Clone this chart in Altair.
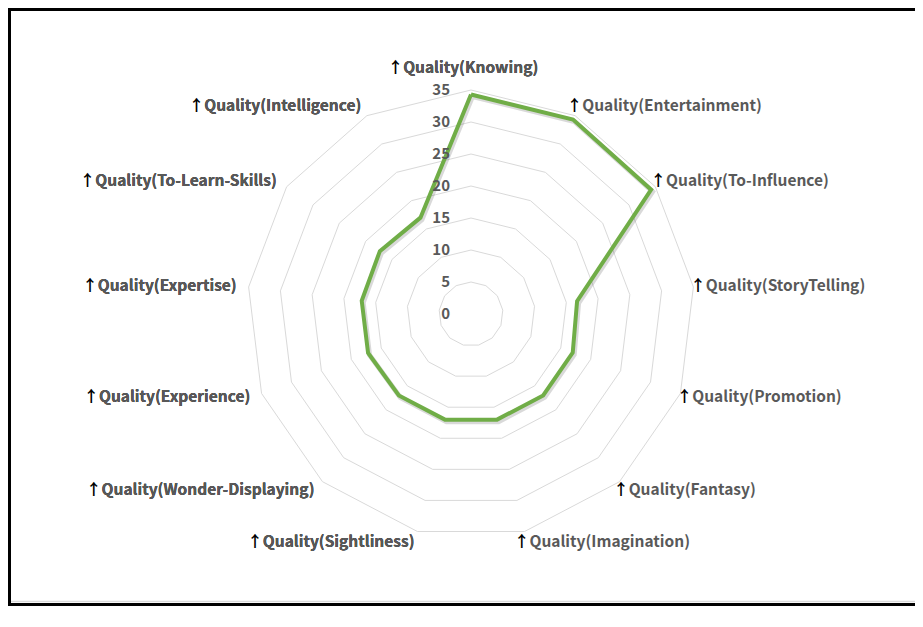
import altair as alt
import pandas as pd

# ---- data ----
categories = ["Knowing", "Entertainment", "To-Influence", "StoryTelling", "Promotion",
              "Fantasy", "Imagination", "Sightliness", "Wonder-Displaying", "Experience",
              "Expertise", "To-Learn-Skills", "Intelligence"]
values = [34.3, 34.3, 34.2, 16.7, 17.0, 17.0, 17.0, 17.0, 17.0, 17.2, 17.2, 17.3, 17.0]
ring_levels = [5, 10, 15, 20, 25, 30, 35]
tick_values = [0, 5, 10, 15, 20, 25, 30, 35]
tick_labels = ["0", "5", "10", "15", "20", "25", "30", "35"]

# ---- layout constants ----
N = len(categories)
W, H = 907, 598
CX, CY = 463, 306          # centre of the radar in view pixels
K = 6.4                    # pixels per value unit
RMAX = 35
FONT = "'Noto Sans CJK SC'"
GRAY = "#595959"
FS = 15.5
ARROW_W = FS               # advance of the arrow glyph (1em in this font)

XD = [-CX / K, (W - CX) / K]
YD = [-(H - CY) / K, CY / K]
xenc = alt.X("x:Q", scale=alt.Scale(domain=XD, nice=False, zero=False), axis=None)
yenc = alt.Y("y:Q", scale=alt.Scale(domain=YD, nice=False, zero=False), axis=None)

ANG = f"2*PI*(datum.idx % {N})/{N}"

# rings
ring_rows = [{"level": lv, "idx": i} for lv in ring_levels for i in range(N + 1)]
rings = alt.Chart(pd.DataFrame(ring_rows)).transform_calculate(
    a=ANG
).transform_calculate(
    x="datum.level*sin(datum.a)", y="datum.level*cos(datum.a)"
).mark_line(color="#d9d9d9", strokeWidth=1).encode(
    x=xenc, y=yenc, detail="level:N", order="idx:Q"
)

# series
ser_df = pd.DataFrame({"idx": list(range(N)) + [N], "value": values + [values[0]]})
ser_base = alt.Chart(ser_df).transform_calculate(
    a=ANG
).transform_calculate(
    x="datum.value*sin(datum.a)", y="datum.value*cos(datum.a)"
)
shadow = ser_base.mark_line(color="#000000", opacity=0.15, strokeWidth=5,
                            xOffset=1.5, yOffset=2, strokeJoin="miter").encode(
    x=xenc, y=yenc, order="idx:Q")
series = ser_base.mark_line(color="#70ad47", strokeWidth=4, strokeJoin="miter").encode(
    x=xenc, y=yenc, order="idx:Q")

# tick labels along the top spoke
tick_df = pd.DataFrame({"v": tick_values, "t": tick_labels})
ticks = alt.Chart(tick_df).transform_calculate(
    x=f"-21/{K}", y="datum.v"
).mark_text(font=FONT, fontSize=15, fontWeight="bold", color=GRAY,
            align="right", baseline="middle").encode(
    x=xenc, y=yenc, text="t:N")

# category labels
lab_df = pd.DataFrame({"idx": list(range(N)), "cat": categories})
lab_base = alt.Chart(lab_df).transform_calculate(
    a=ANG
).transform_calculate(
    s="sin(datum.a)", c="cos(datum.a)"
).transform_calculate(
    side="datum.s > 0.2 ? 'r' : (datum.s < -0.2 ? 'l' : 't')"
).transform_calculate(
    x=f"{RMAX}*datum.s + (datum.side == 'r' ? -3-10*(1-abs(datum.s)) : (datum.side == 'l' ? -12*abs(datum.s) : -8))/{K}",
    y=f"{RMAX}*datum.c + (datum.side == 't' ? 22 : 11*datum.c)/{K}",
    arrow="'\u2191'",
    full="'\u2191Quality(' + datum.cat + ')'",
    txt="'Quality(' + datum.cat + ')'",
)

layers = []
for side, align, dxg, black_field in [("r", "left", ARROW_W, "arrow:N"),
                                      ("l", "right", 0, "full:N"),
                                      ("t", "center", ARROW_W / 2, "full:N")]:
    b = lab_base.transform_filter(f"datum.side == '{side}'")
    layers.append(b.mark_text(font=FONT, fontSize=FS, fontWeight="bold", color="#000000",
                              align=align, baseline="middle").encode(x=xenc, y=yenc, text=black_field))
    layers.append(b.mark_text(font=FONT, fontSize=FS, fontWeight="bold", color=GRAY,
                              align=align, baseline="middle", dx=dxg).encode(x=xenc, y=yenc, text="txt:N"))

# frame (left, top, bottom edges; right edge lies outside the picture)
one = pd.DataFrame({"k": [0]})
frame_left = alt.Chart(one).mark_rule(color="#000000", strokeWidth=3).encode(
    x=alt.value(1.5), y=alt.value(0), y2=alt.value(H))
frame_top = alt.Chart(one).mark_rule(color="#000000", strokeWidth=3).encode(
    x=alt.value(0), x2=alt.value(W), y=alt.value(1.5))
frame_bottom = alt.Chart(one).mark_rule(color="#000000", strokeWidth=3).encode(
    x=alt.value(0), x2=alt.value(W), y=alt.value(H - 1.5))
inner = alt.Chart(one).mark_rule(color="#d9d9d9", strokeWidth=1.5).encode(
    x=alt.value(3), x2=alt.value(W), y=alt.value(H - 4.5))

chart = alt.layer(rings, shadow, series, ticks, *layers, inner,
                  frame_left, frame_top, frame_bottom).properties(
    width=W, height=H, autosize="none", padding=0
).configure_view(stroke=None)

chart.save("out.html", embed_options={"renderer": "svg", "actions": False})
